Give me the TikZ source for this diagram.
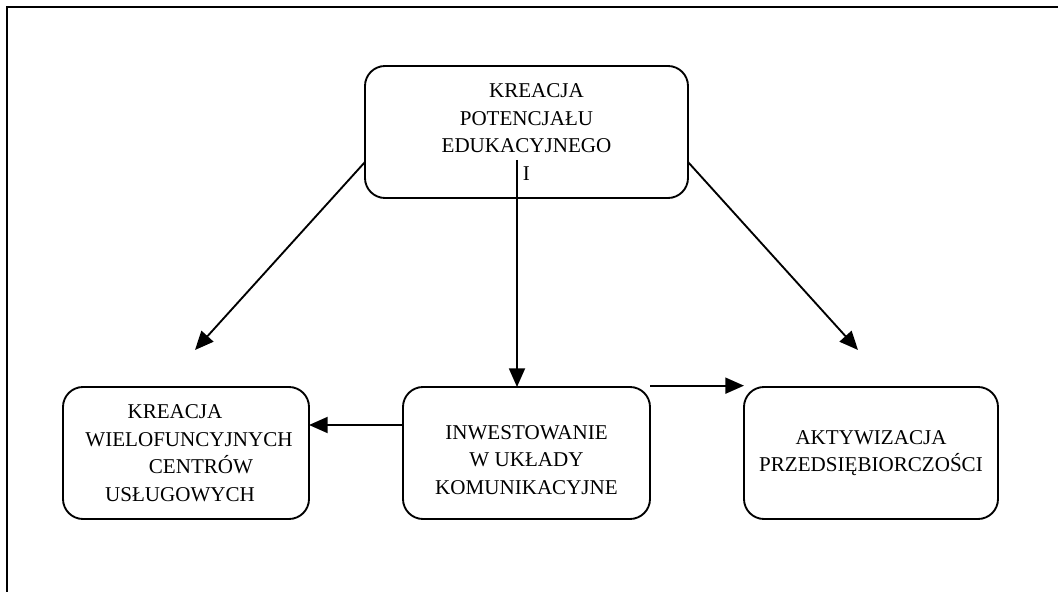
\documentclass[tikz,border=0pt]{standalone}
\usepackage{fontspec}
\setmainfont{Liberation Serif}
\usetikzlibrary{arrows.meta, positioning}

\tikzset{
  box/.style={draw, line width=1.4pt, rounded corners=15pt, align=center,
    inner sep=0pt, outer sep=0pt, minimum height=99pt,
    font=\fontsize{15.8}{20.6}\selectfont},
  arr/.style={-{Triangle[length=14pt,width=12pt]}, line width=1.4pt},
}

\begin{document}
\begin{tikzpicture}[x=0.75pt, y=-0.75pt, node distance=70.5pt]
  \useasboundingbox (0,0) rectangle (1058,592);
  \draw[line width=1.4pt] (1058,7) -- (7,7) -- (7,592);

  \node[box, minimum width=242.25pt] (edu) at (526.5,132)
    {\hspace*{15pt}KREACJA\\POTENCJAŁU\\EDUKACYJNEGO\\I};
  \node[box, minimum width=185.25pt] (kom) at (526.5,453)
    {\mbox{}\\INWESTOWANIE\\W UKŁADY\\KOMUNIKACYJNE};
  \node[box, minimum width=184.5pt, left=of kom] (centra)
    {KREACJA\hspace*{16.5pt}\\\hspace*{4.5pt}WIELOFUNCYJNYCH\\\hspace*{22.5pt}CENTRÓW\\USŁUGOWYCH\hspace*{9pt}};
  \node[box, minimum width=190.5pt, right=of kom] (przed)
    {AKTYWIZACJA\\PRZEDSIĘBIORCZOŚCI};

  \coordinate (ltip) at (195,350);
  \coordinate (rtip) at (858,350);
  \coordinate (vstart) at (517,160);

  \draw[arr] ([yshift=-22.5pt]edu.west) -- (ltip);
  \draw[arr] ([yshift=-22.5pt]edu.east) -- (rtip);
  \draw[arr] (vstart) -- (vstart |- kom.north);
  \draw[arr] ([yshift=21pt]kom.west) -- ([yshift=21pt]centra.east);
  \draw[arr] ([yshift=1pt]kom.north east) -- ([yshift=1pt]przed.north west);
\end{tikzpicture}
\end{document}
